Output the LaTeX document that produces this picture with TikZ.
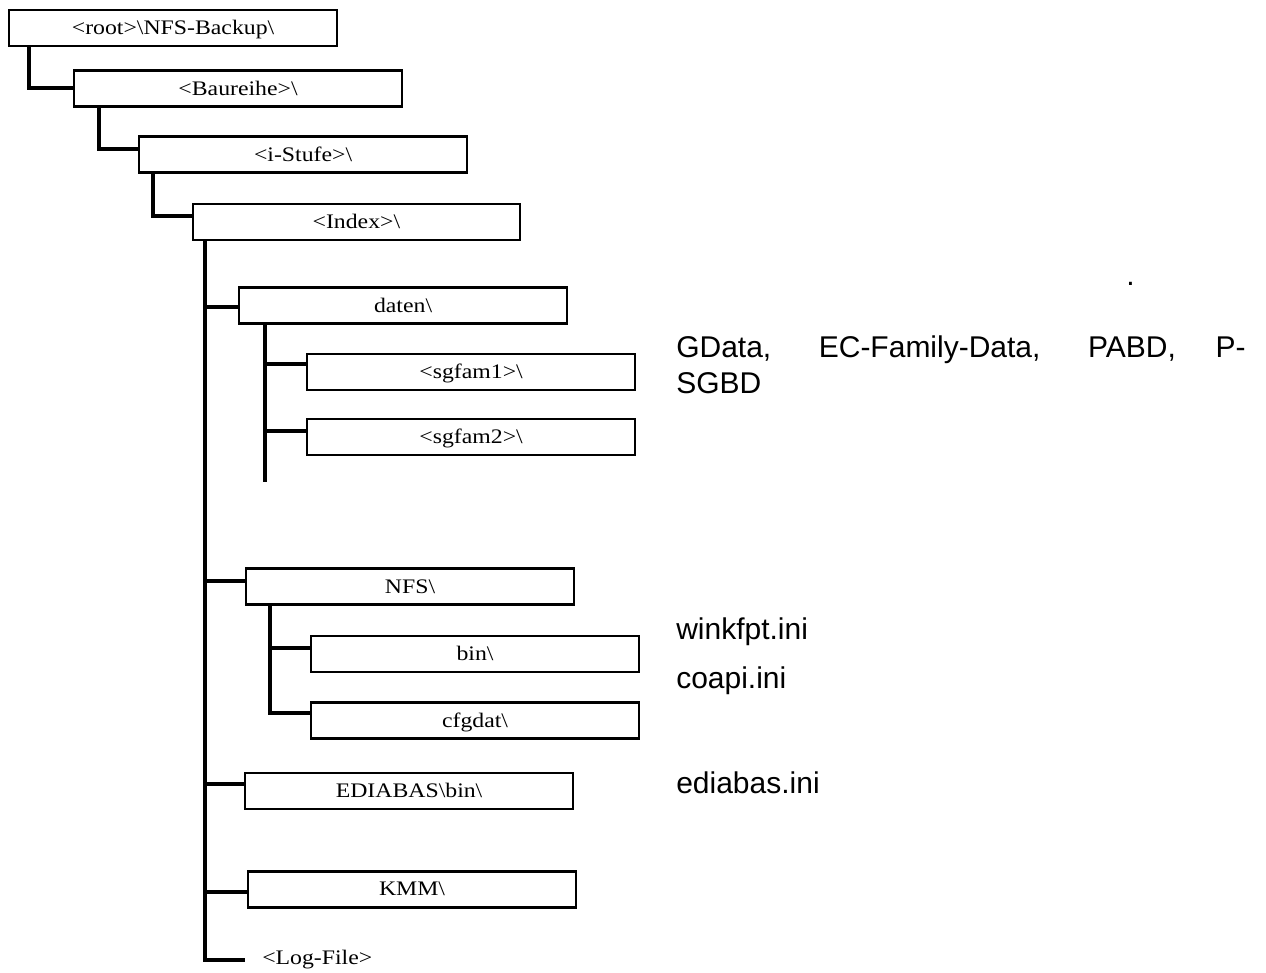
\documentclass[tikz,border=0pt]{standalone}
\usepackage{fontspec}
\newfontfamily\boxfont[FakeStretch=1.15]{Liberation Serif}
\newfontfamily\sansfnt{Liberation Sans}
\usetikzlibrary{calc}
\begin{document}
\begin{tikzpicture}[x=0.75pt,y=-0.75pt,
  dirbox/.style={draw, line width=1.6pt, minimum width=246pt, minimum height=27pt,
    inner sep=0pt, anchor=west, text depth=0.5pt, font=\boxfont\fontsize{15.5}{18}\selectfont},
  conn/.style={line width=2.4pt},
  side/.style={anchor=base west, inner sep=0pt, font=\sansfnt\fontsize{22.5}{27}\selectfont},
  plain/.style={anchor=west, inner sep=0pt, font=\boxfont\fontsize{15.5}{18}\selectfont}]
\useasboundingbox[fill=white] (0,0) rectangle (1266,972);

\node[dirbox] (root) at (8,28) {<root>\textbackslash NFS-Backup\textbackslash};
\node[dirbox] (baureihe) at (73,88.5) {<Baureihe>\textbackslash};
\node[dirbox] (istufe) at (138,154.5) {<i-Stufe>\textbackslash};
\node[dirbox, minimum width=245pt] (index) at (192,222) {<Index>\textbackslash};
\node[dirbox] (daten) at (238,305.5) {daten\textbackslash};
\node[dirbox] (sgfam1) at (306,372) {<sgfam1>\textbackslash};
\node[dirbox] (sgfam2) at (306,437) {<sgfam2>\textbackslash};
\node[dirbox] (nfs) at (245,586.5) {NFS\textbackslash};
\node[dirbox] (bin) at (310,654) {bin\textbackslash};
\node[dirbox] (cfgdat) at (310,720.5) {cfgdat\textbackslash};
\node[dirbox] (ediabas) at (244,791) {EDIABAS\textbackslash bin\textbackslash};
\node[dirbox] (kmm) at (247,889.5) {KMM\textbackslash};
\node[plain] (logfile) at (262,960) {<Log-File>};

% upper chain
\draw[conn] ($(root.south west)+(21,0)$) |- ($(baureihe.west)+(0,-0.5)$);
\draw[conn] ($(baureihe.south west)+(26,0)$) |- ($(istufe.west)+(0,-5.5)$);
\draw[conn] ($(istufe.south west)+(15,0)$) |- ($(index.west)+(0,-6)$);

% index trunk
\coordinate (ti) at ($(index.south west)+(13,0)$);
\draw[conn] (ti) |- ($(logfile.west)+(-17,0)$);
\draw[conn] (ti |- {$(daten.west)+(0,1.5)$}) -- ($(daten.west)+(0,1.5)$);
\draw[conn] (ti |- {$(nfs.west)+(0,-5.5)$}) -- ($(nfs.west)+(0,-5.5)$);
\draw[conn] (ti |- {$(ediabas.west)+(0,-7)$}) -- ($(ediabas.west)+(0,-7)$);
\draw[conn] (ti |- {$(kmm.west)+(0,2.5)$}) -- ($(kmm.west)+(0,2.5)$);

% daten trunk
\coordinate (td) at ($(daten.south west)+(27,0)$);
\coordinate (tdend) at ($(td)+(0,157)$);
\draw[conn] (td) -- (tdend);
\draw[conn] (td |- {$(sgfam1.west)+(0,-8)$}) -- ($(sgfam1.west)+(0,-8)$);
\draw[conn] (td |- {$(sgfam2.west)+(0,-6)$}) -- ($(sgfam2.west)+(0,-6)$);

% NFS trunk
\coordinate (tn) at ($(nfs.south west)+(25,0)$);
\draw[conn] (tn) |- ($(cfgdat.west)+(0,-7.5)$);
\draw[conn] (tn |- {$(bin.west)+(0,-6)$}) -- ($(bin.west)+(0,-6)$);

% side texts
\node[side] (dot) at (1126,285) {.};
\node[side] (gd1) at (676,357) {\makebox[427pt][s]{GData, EC-Family-Data, PABD, P-}};
\node[side] (gd2) at (676,393) {SGBD};
\node[side] (wink) at (676,639) {winkfpt.ini};
\node[side] (coapi) at (676,688) {coapi.ini};
\node[side] (edini) at (676,793) {ediabas.ini};
\end{tikzpicture}
\end{document}
